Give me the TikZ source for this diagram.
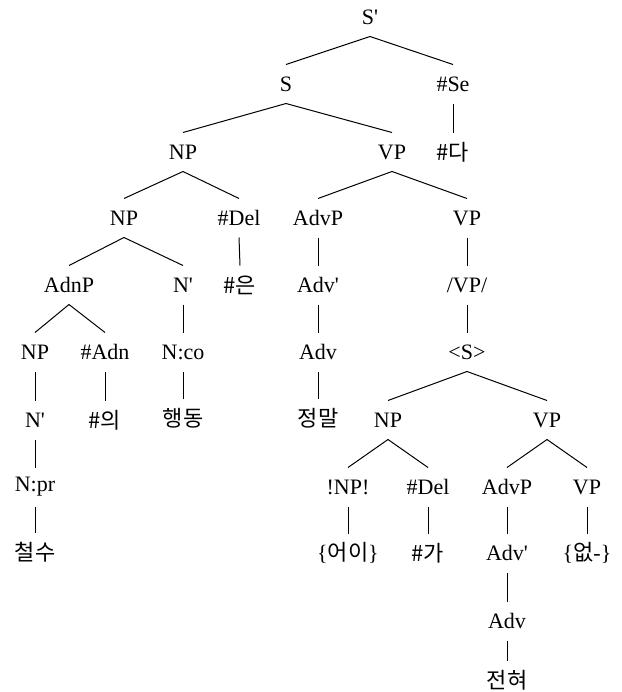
\documentclass[tikz,border=0pt]{standalone}
\usepackage{fontspec}
\setmainfont{Liberation Serif}[Ligatures=TeXOff]
\newfontfamily\kor{Noto Sans CJK KR}
\tikzset{cat/.style={inner sep=0pt,minimum height=28.5pt,font=\fontsize{16.5}{18}\selectfont}}
\begin{document}
\begin{tikzpicture}[x=0.75pt,y=-0.75pt,line width=0.75pt]
            \useasboundingbox (0,0) rectangle (621,692);
            \node[cat] (sp) at (370,17) {S'};
            \node[cat] (s) at (286,84) {S};
            \node[cat] (se) at (453,84) {\#Se};
            \node[cat] (np1) at (183,152) {NP};
            \node[cat] (vp1) at (392,152) {VP};
            \node[cat] (da) at (453,152) {\kor \#다};
            \node[cat] (np2) at (124,218) {NP};
            \node[cat] (del1) at (239,218) {\#Del};
            \node[cat] (advp1) at (318,218) {AdvP};
            \node[cat] (vp2) at (467,218) {VP};
            \node[cat] (adnp) at (69,285) {AdnP};
            \node[cat] (nbar1) at (183,285) {N'};
            \node[cat] (eun) at (240,285) {\kor \#은};
            \node[cat] (advbar1) at (318,285) {Adv'};
            \node[cat] (vpsl) at (467,285) {/VP/};
            \node[cat] (np3) at (35,352) {NP};
            \node[cat] (adn) at (105,352) {\#Adn};
            \node[cat] (nco) at (183,352) {N:co};
            \node[cat] (adv1) at (318,352) {Adv};
            \node[cat] (sang) at (467,352) {<S>};
            \node[cat] (nbar2) at (35,420) {N'};
            \node[cat] (ui) at (105,420) {\kor \#의};
            \node[cat] (haengdong) at (183,418) {\kor 행동};
            \node[cat] (jeongmal) at (318,418) {\kor 정말};
            \node[cat] (np4) at (388,420) {NP};
            \node[cat] (vp3) at (547,420) {VP};
            \node[cat] (npr) at (35,487) {N:pr};
            \node[cat] (npex) at (348,487) {!NP!};
            \node[cat] (del2) at (428,487) {\#Del};
            \node[cat] (advp2) at (507,487) {AdvP};
            \node[cat] (vp4) at (587,487) {VP};
            \node[cat] (cheolsu) at (35,552) {\kor 철수};
            \node[cat] (eoi) at (348,553) {\{{\kor 어이}\}};
            \node[cat] (ga) at (428,553) {\kor \#가};
            \node[cat] (advbar2) at (507,553) {Adv'};
            \node[cat] (eops) at (587,553) {\{{\kor 없}-\}};
            \node[cat] (adv2) at (507,621) {Adv};
            \node[cat] (jeonhyeo) at (507,680) {\kor 전혀};
            \foreach \a/\b in {sp/s,sp/se,se/da,s/np1,s/vp1,np1/np2,np1/del1,del1/eun,
                vp1/advp1,vp1/vp2,np2/adnp,np2/nbar1,adnp/np3,adnp/adn,nbar1/nco,
                advp1/advbar1,advbar1/adv1,adv1/jeongmal,vp2/vpsl,vpsl/sang,np3/nbar2,
                adn/ui,nco/haengdong,sang/np4,sang/vp3,nbar2/npr,npr/cheolsu,np4/npex,
                np4/del2,vp3/advp2,vp3/vp4,npex/eoi,del2/ga,advp2/advbar2,
                advbar2/adv2,adv2/jeonhyeo,vp4/eops}
                \draw (\a.south) -- (\b.north);
        \end{tikzpicture}
\end{document}
